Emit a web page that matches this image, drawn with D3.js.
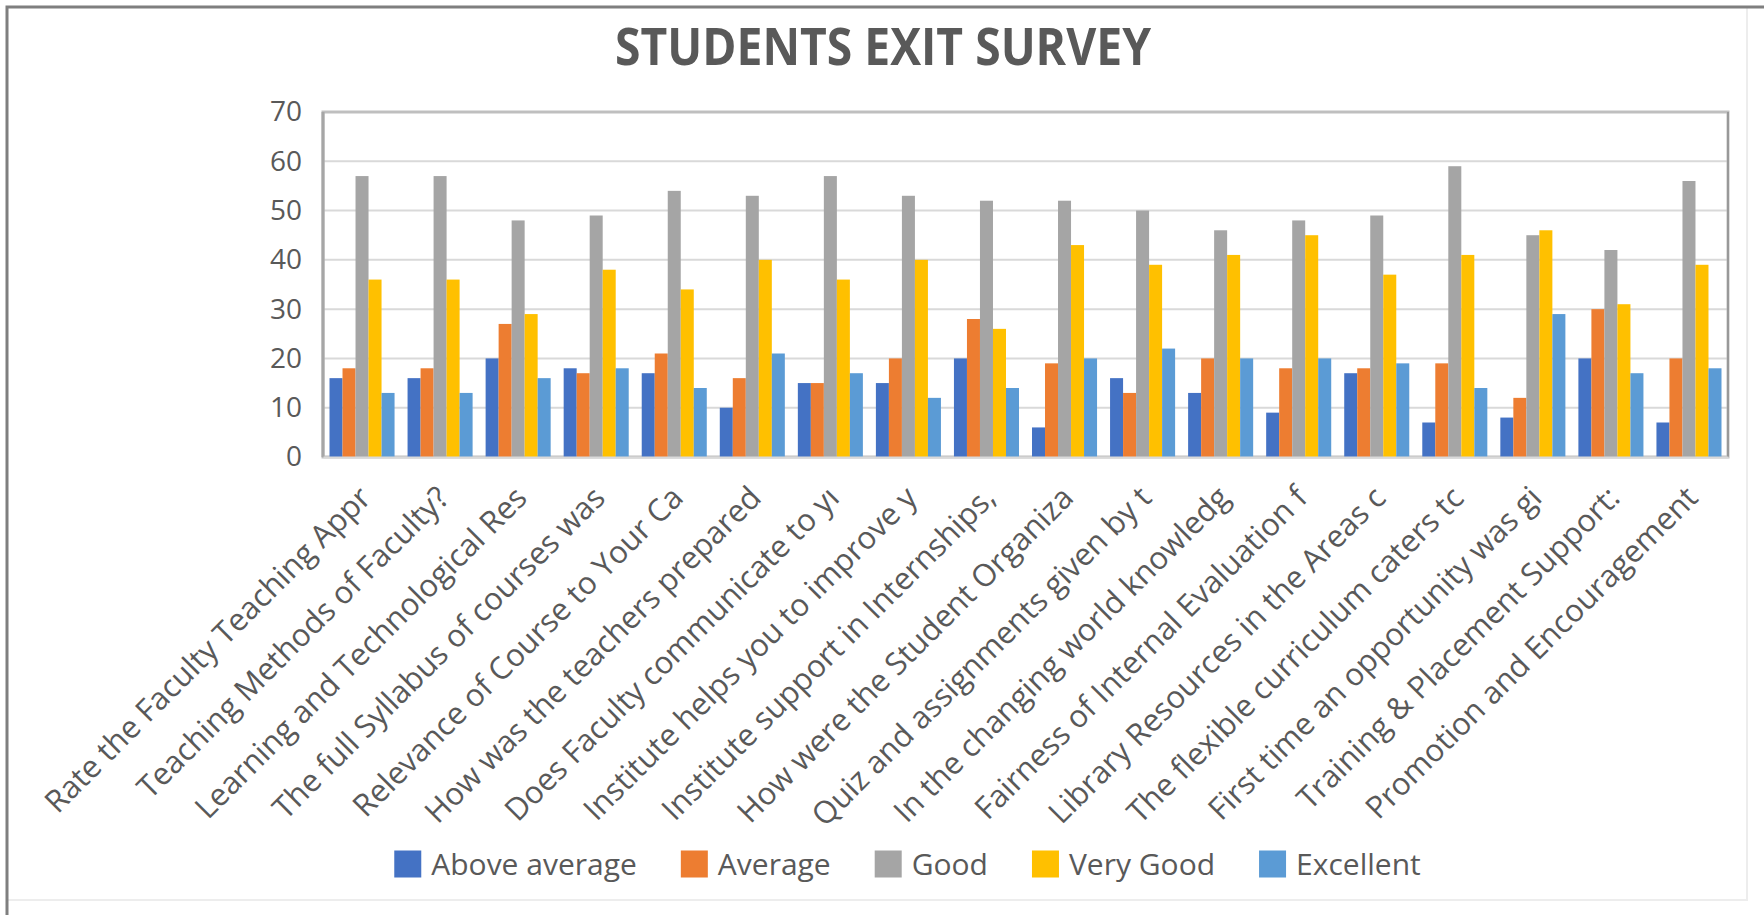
<!DOCTYPE html>
<html>
<head>
<meta charset="utf-8">
<script src="https://cdn.jsdelivr.net/npm/d3@7"></script>
<style>
    body { margin: 0; background: #fff; }
    svg { display: block; font-family: "Open Sans", "DejaVu Sans", sans-serif; }
</style>
</head>
<body>
<div id="chart"></div>
<script>
var categories = [
    "Rate the Faculty Teaching Appr",
    "Teaching Methods of Faculty?",
    "Learning and Technological Res",
    "The full Syllabus of courses was",
    "Relevance of Course to Your Ca",
    "How was the teachers prepared",
    "Does Faculty communicate to yı",
    "Institute helps you to improve y",
    "Institute support in Internships,",
    "How were the Student Organiza",
    "Quiz and assignments given by t",
    "In the changing world knowledg",
    "Fairness of Internal Evaluation f",
    "Library Resources in the Areas c",
    "The flexible curriculum caters tc",
    "First time an opportunity was gi",
    "Training & Placement Support:",
    "Promotion and Encouragement"
];

var seriesNames = ["Above average", "Average", "Good", "Very Good", "Excellent"];
var seriesColors = ["#4472C4", "#ED7D31", "#A5A5A5", "#FFC000", "#5B9BD5"];

var aboveAverage = [16, 16, 20, 18, 17, 10, 15, 15, 20, 6, 16, 13, 9, 17, 7, 8, 20, 7];
var average = [18, 18, 27, 17, 21, 16, 15, 20, 28, 19, 13, 20, 18, 18, 19, 12, 30, 20];
var good = [57, 57, 48, 49, 54, 53, 57, 53, 52, 52, 50, 46, 48, 49, 59, 45, 42, 56];
var veryGood = [36, 36, 29, 38, 34, 40, 36, 40, 26, 43, 39, 41, 45, 37, 41, 46, 31, 39];
var excellent = [13, 13, 16, 18, 14, 21, 17, 12, 14, 20, 22, 20, 20, 19, 14, 29, 17, 18];

var yTicks = [0, 10, 20, 30, 40, 50, 60, 70];

var chartWidth = 1764,
    chartHeight = 915,
    plotLeft = 323,
    plotRight = 1728,
    plotTop = 112,
    plotBottom = 457;

var seriesValues = [aboveAverage, average, good, veryGood, excellent];

var rows = categories.map((c, i) => ({
    category: c,
    values: seriesValues.map((s, j) => ({ series: seriesNames[j], value: s[i] }))
}));

var svg = d3.select("#chart")
    .append("svg")
    .attr("width", chartWidth)
    .attr("height", chartHeight);

svg.append("rect")
    .attr("width", chartWidth)
    .attr("height", chartHeight)
    .style("fill", "#fff");

// faint right / bottom edge of the chart box
svg.append("path")
    .attr("d", "M7,900H1747V7")
    .style("fill", "none")
    .style("stroke", "#ededed")
    .style("stroke-width", "2px");

// outer chart border (top / left are the strong ones)
svg.append("path")
    .attr("d", "M7," + chartHeight + "V7H" + chartWidth)
    .style("fill", "none")
    .style("stroke", "#7f7f7f")
    .style("stroke-width", "3px");

svg.append("text")
    .attr("x", 883)
    .attr("y", 65)
    .attr("text-anchor", "middle")
    .attr("font-weight", "bold")
    .attr("textLength", 536)
    .attr("lengthAdjust", "spacingAndGlyphs")
    .text("STUDENTS EXIT SURVEY")
    .style("fill", "#595959")
    .style("font-size", "52px");

var x0 = d3.scaleBand()
    .domain(categories)
    .range([plotLeft, plotRight])
    .paddingInner(1 / 6)
    .paddingOuter(1 / 12);

var x1 = d3.scaleBand()
    .domain(seriesNames)
    .range([0, x0.bandwidth()]);

var y = d3.scaleLinear()
    .domain([0, 70])
    .range([plotBottom, plotTop]);

var color = d3.scaleOrdinal()
    .domain(seriesNames)
    .range(seriesColors);

// gridlines
svg.append("g")
    .selectAll("line")
    .data(yTicks.filter(t => t > 0 && t < 70))
    .join("line")
    .attr("x1", plotLeft)
    .attr("x2", plotRight)
    .attr("y1", d => y(d))
    .attr("y2", d => y(d))
    .style("stroke", "#d9d9d9")
    .style("stroke-width", "2px");

// plot frame
svg.append("rect")
    .attr("x", plotLeft)
    .attr("y", plotTop)
    .attr("width", plotRight - plotLeft)
    .attr("height", plotBottom - plotTop)
    .style("fill", "none")
    .style("stroke", "#bfbfbf")
    .style("stroke-width", "3px");

svg.append("line")
    .attr("x1", plotRight)
    .attr("x2", plotRight)
    .attr("y1", plotTop)
    .attr("y2", plotBottom)
    .style("stroke", "#8c8c8c")
    .style("stroke-width", "1.5px");

svg.append("line")
    .attr("x1", plotLeft)
    .attr("x2", plotLeft)
    .attr("y1", plotTop)
    .attr("y2", plotBottom)
    .style("stroke", "#a6a6a6")
    .style("stroke-width", "3px");

// bars
svg.append("g")
    .selectAll("g")
    .data(rows)
    .join("g")
    .attr("transform", d => "translate(" + x0(d.category) + ",0)")
    .selectAll("rect")
    .data(d => d.values)
    .join("rect")
    .attr("x", d => x1(d.series))
    .attr("y", d => y(d.value))
    .attr("width", x1.bandwidth())
    .attr("height", d => y(0) - y(d.value))
    .style("fill", d => color(d.series));

// y axis
var yAxis = svg.append("g")
    .attr("transform", "translate(" + plotLeft + ",0)")
    .call(d3.axisLeft(y).tickValues(yTicks).tickSize(0).tickPadding(21));

yAxis.select(".domain").remove();
yAxis.selectAll(".tick text")
    .style("fill", "#595959")
    .style("font-size", "28px")
    .style("font-family", "'Open Sans', sans-serif");

// x axis
var xAxis = svg.append("g")
    .attr("transform", "translate(0," + plotBottom + ")")
    .call(d3.axisBottom(x0).tickSize(0));

xAxis.select(".domain")
    .style("stroke", "#d9d9d9")
    .style("stroke-width", "2px");

xAxis.selectAll(".tick text")
    .attr("y", 0)
    .attr("dy", "0.35em")
    .attr("transform", "translate(3,35) rotate(-45)")
    .style("text-anchor", "end")
    .style("fill", "#595959")
    .style("font-size", "31px")
    .style("font-family", "'Open Sans', sans-serif");

// legend
var legend = svg.append("g")
    .attr("transform", "translate(0,864)");

var items = legend.selectAll("g")
    .data(seriesNames)
    .join("g");

items.append("rect")
    .attr("x", 0)
    .attr("y", -13.5)
    .attr("width", 27)
    .attr("height", 27)
    .style("fill", d => color(d));

items.append("text")
    .attr("x", 37)
    .attr("dy", "0.35em")
    .text(d => d)
    .style("fill", "#595959")
    .style("font-size", "30px");

var pos = 0, offsets = [];
items.each(function () {
    offsets.push(pos);
    pos += 37 + d3.select(this).select("text").node().getComputedTextLength() + 44;
});
var legendWidth = pos - 44,
    legendStart = 907.5 - legendWidth / 2;

items.attr("transform", (d, i) => "translate(" + (legendStart + offsets[i]) + ",0)");
</script>
</body>
</html>
